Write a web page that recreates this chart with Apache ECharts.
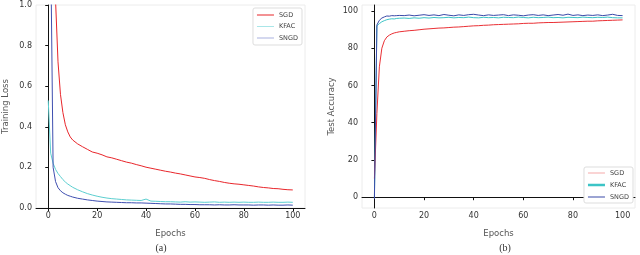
<!DOCTYPE html>
<html><head><meta charset="utf-8">
<script src="https://cdn.jsdelivr.net/npm/echarts@6/dist/echarts.min.js"></script>
<style>html,body{margin:0;padding:0;background:#fff}#c{width:640px;height:255px}</style>
</head><body><div id="c"></div>
<script>
const epochs = [0,1,2,3,4,5,6,7,8,9,10,12,14,16,18,20,22,24,26,28,30,32,34,36,38,40,42,44,46,48,50,52,54,56,58,60,62,64,66,68,70,72,74,76,78,80,82,84,86,88,90,92,94,96,98,100];
const xTicks = [0,20,40,60,80,100];
const lossTicks = [0,0.2,0.4,0.6,0.8,1.0];
const accTicks = [0,20,40,60,80,100];
const seriesNames = ['SGD','KFAC','SNGD'];

const lossSGD = [null,null,1.6,1.02,0.72,0.56,0.47,0.41,0.375,0.35,0.335,
0.316,0.302,0.289,0.276,0.270,0.262,0.252,0.247,0.240,0.233,0.226,0.221,0.214,0.208,0.201,0.196,0.191,0.186,0.181,0.177,0.172,0.168,0.163,0.158,0.153,0.150,0.146,0.140,0.135,0.131,0.126,0.122,0.119,0.117,0.114,0.111,0.108,0.104,0.101,0.099,0.096,0.095,0.092,0.090,0.089];
const lossKFAC = [0.53,0.27,0.22,0.19,0.17,0.155,0.14,0.128,0.118,0.11,0.102,
0.090,0.080,0.071,0.064,0.058,0.053,0.049,0.046,0.044,0.042,0.040,0.039,0.038,0.037,0.044,0.034,0.033,0.032,0.031,0.031,0.030,0.029,0.031,0.029,0.030,0.029,0.028,0.029,0.030,0.028,0.029,0.028,0.029,0.028,0.029,0.028,0.028,0.029,0.028,0.028,0.029,0.028,0.028,0.029,0.028];
const lossSNGD = [null,1.3,0.2,0.13,0.1,0.085,0.075,0.068,0.062,0.058,0.054,
0.048,0.044,0.040,0.037,0.034,0.032,0.030,0.029,0.028,0.027,0.026,0.026,0.025,0.025,0.024,0.023,0.022,0.021,0.020,0.020,0.019,0.018,0.018,0.017,0.017,0.016,0.016,0.016,0.015,0.016,0.015,0.015,0.016,0.015,0.015,0.015,0.014,0.015,0.015,0.014,0.015,0.014,0.014,0.015,0.014];

const accSGD = [10,45,70,80,84,86,87,87.7,88.2,88.5,88.8,
89.1,89.4,89.6,89.9,90.2,90.4,90.6,90.8,90.9,91.1,91.3,91.4,91.6,91.8,92.0,92.1,92.3,92.4,92.6,92.7,92.8,92.9,93.0,93.1,93.3,93.4,93.4,93.6,93.7,93.8,93.8,93.9,94.0,94.1,94.2,94.3,94.4,94.5,94.5,94.7,94.8,94.9,95.0,95.1,95.2];
const accKFAC = [0,92,93.2,94.2,94.8,95.3,95.6,95.8,95.7,96.0,96.1,
96.2,96.0,96.3,96.1,96.4,96.2,96.5,96.3,96.4,96.6,96.3,96.5,96.4,96.7,96.4,96.3,96.6,96.4,96.5,96.3,96.6,96.5,96.4,96.7,96.5,96.3,96.6,96.4,96.5,96.7,96.4,96.5,96.3,96.6,96.5,96.4,96.7,96.5,96.4,96.6,96.5,96.7,96.4,96.3,96.3];
const accSNGD = [-1,92.5,95,96.2,96.8,97.3,97.2,97.5,97.4,97.5,97.6,
97.5,97.8,97.4,97.7,98.0,97.6,97.9,97.5,98.1,97.7,97.4,97.9,97.6,98.0,98.2,97.8,97.5,97.9,97.6,97.8,98.0,97.5,97.9,97.7,97.4,97.8,98.0,97.6,97.9,97.5,97.8,98.1,97.7,98.3,97.6,97.9,97.5,97.8,97.6,97.9,97.5,97.8,98.2,97.6,97.5];

function pairs(arr){ return epochs.map((e,i)=>[e,arr[i]]).filter(p=>p[1]!==null); }

const FONT = 'DejaVu Sans';
const lineColors = {a:['#e8262b','#5ccfd0','#3f4fb0'], b:['#ea3035','#3cc4c6','#3a4aa8']};
// legend glyphs: a horizontal bar inside a tall, invisible bounding box
const thinBar = 'path://M0,3.5 H17 V4.6 H0 Z M0,0 H0.01 V8 H0 Z';
const thickBar = 'path://M0,2.8 H17 V5.3 H0 Z M0,0 H0.01 V8 H0 Z';

function xAxisDef(gi){
  return {type:'value', gridIndex:gi, min:-5, max:105,
    name:'Epochs', nameLocation:'middle', nameGap:21,
    nameTextStyle:{fontFamily:FONT,fontSize:8.5,color:'#555'},
    axisLine:{lineStyle:{color:'#111',width:1}},
    axisTick:{show:true,length:3,customValues:xTicks,lineStyle:{color:'#111'}},
    axisLabel:{customValues:xTicks,fontFamily:FONT,fontSize:8,color:'#333',margin:4},
    splitLine:{show:false}};
}

const option = {
  backgroundColor:'#fff',
  animation:false,
  grid:[
    {left:33,right:335,top:5,bottom:47,show:true,borderColor:'#ececec',borderWidth:1},
    {left:362,right:5,top:5,bottom:47,show:true,borderColor:'#ececec',borderWidth:1}
  ],
  xAxis:[xAxisDef(0), xAxisDef(1)],
  yAxis:[
    {type:'value',gridIndex:0,min:0,max:1,interval:0.2,
     name:'Training Loss',nameLocation:'middle',nameGap:26,
     nameTextStyle:{fontFamily:FONT,fontSize:8.5,color:'#555'},
     axisLine:{show:true,lineStyle:{color:'#111',width:1}},
     axisTick:{show:true,length:3,lineStyle:{color:'#111'}},
     axisLabel:{fontFamily:FONT,fontSize:8,color:'#333',margin:4,formatter:v=>v.toFixed(1)},
     splitLine:{show:false}},
    {type:'value',gridIndex:1,min:-5.8,max:103.2,
     name:'Test Accuracy',nameLocation:'middle',nameGap:26,
     nameTextStyle:{fontFamily:FONT,fontSize:8.5,color:'#555'},
     axisLine:{show:true,lineStyle:{color:'#111',width:1}},
     axisTick:{show:true,length:3,customValues:accTicks,lineStyle:{color:'#111'}},
     axisLabel:{customValues:accTicks,fontFamily:FONT,fontSize:8,color:'#333',margin:4},
     splitLine:{show:false}}
  ],
  legend:[
    {orient:'vertical',right:338,top:8,padding:[3,4,3,4],itemWidth:17,itemHeight:8,itemGap:3.5,
     backgroundColor:'#fff',borderColor:'#ddd',borderWidth:1,borderRadius:2,
     textStyle:{fontFamily:FONT,fontSize:6.5,color:'#444'},
     data:[
       {name:'SGD',icon:thinBar,itemStyle:{color:'#e8262b',borderWidth:0}},
       {name:'KFAC',icon:thinBar,itemStyle:{color:'#a9e6e8',borderWidth:0}},
       {name:'SNGD',icon:thinBar,itemStyle:{color:'#aab2e0',borderWidth:0}}
     ]},
    {orient:'vertical',right:7,top:167,padding:[2,4,2,4],itemWidth:17,itemHeight:8,itemGap:4,
     backgroundColor:'#fff',borderColor:'#ddd',borderWidth:1,borderRadius:2,
     textStyle:{fontFamily:FONT,fontSize:6.5,color:'#444'},
     data:[
       {name:'SGD',icon:thinBar,itemStyle:{color:'#f6aaaa',borderWidth:0}},
       {name:'KFAC',icon:thickBar,itemStyle:{color:'#3cc4c6',borderWidth:0}},
       {name:'SNGD',icon:thinBar,itemStyle:{color:'#3a4aa8',borderWidth:0}}
     ]}
  ],
  series:[
    {name:seriesNames[0],type:'line',xAxisIndex:0,yAxisIndex:0,symbol:'none',data:pairs(lossSGD),lineStyle:{color:lineColors.a[0],width:1},itemStyle:{color:lineColors.a[0]},z:3},
    {name:seriesNames[1],type:'line',xAxisIndex:0,yAxisIndex:0,symbol:'none',data:pairs(lossKFAC),lineStyle:{color:lineColors.a[1],width:1},itemStyle:{color:lineColors.a[1]},z:2},
    {name:seriesNames[2],type:'line',xAxisIndex:0,yAxisIndex:0,symbol:'none',data:pairs(lossSNGD),lineStyle:{color:lineColors.a[2],width:1},itemStyle:{color:lineColors.a[2]},z:4},
    {name:seriesNames[0],type:'line',xAxisIndex:1,yAxisIndex:1,symbol:'none',data:pairs(accSGD),lineStyle:{color:lineColors.b[0],width:1},itemStyle:{color:lineColors.b[0]},z:3},
    {name:seriesNames[1],type:'line',xAxisIndex:1,yAxisIndex:1,symbol:'none',data:pairs(accKFAC),lineStyle:{color:lineColors.b[1],width:1},itemStyle:{color:lineColors.b[1]},z:2},
    {name:seriesNames[2],type:'line',xAxisIndex:1,yAxisIndex:1,symbol:'none',data:pairs(accSNGD),lineStyle:{color:lineColors.b[2],width:1},itemStyle:{color:lineColors.b[2]},z:4}
  ],
  graphic:[
    {type:'text',x:161,y:248,style:{text:'(a)',font:'10px "Liberation Serif", serif',fill:'#333',textAlign:'center',textVerticalAlign:'middle'}},
    {type:'text',x:505,y:248,style:{text:'(b)',font:'10px "Liberation Serif", serif',fill:'#333',textAlign:'center',textVerticalAlign:'middle'}}
  ]
};
const chart = echarts.init(document.getElementById('c'),null,{renderer:'canvas'});
chart.setOption(option);
</script></body></html>
